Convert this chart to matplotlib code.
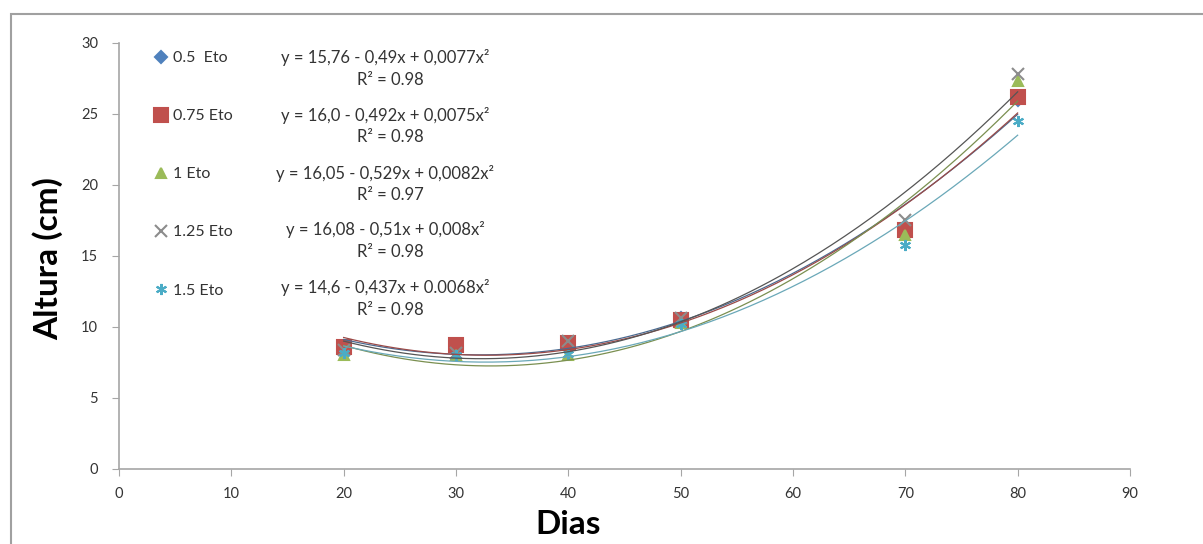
import matplotlib.pyplot as plt
import matplotlib.patches as mpatches
import numpy as np

plt.rcParams['font.family'] = ['Lato', 'DejaVu Sans']

dias = [20, 30, 40, 50, 70, 80]
series = ['0.5  Eto', '0.75 Eto', '1 Eto', '1.25 Eto', '1.5 Eto']
eto_05 = [8.5, 8.7, 8.9, 10.6, 17.0, 26.0]
eto_075 = [8.6, 8.7, 8.9, 10.5, 16.8, 26.2]
eto_1 = [8.0, 8.0, 8.0, 10.3, 16.5, 27.3]
eto_125 = [8.4, 8.2, 9.0, 10.6, 17.5, 27.8]
eto_15 = [8.2, 8.0, 8.1, 10.2, 15.8, 24.5]
equations = ['y = 15,76 - 0,49x + 0,0077x²',
             'y = 16,0 - 0,492x + 0,0075x²',
             'y = 16,05 - 0,529x + 0,0082x²',
             'y = 16,08 - 0,51x + 0,008x²',
             'y = 14,6 - 0,437x + 0.0068x²']
r2 = ['R² = 0.98', 'R² = 0.98', 'R² = 0.97', 'R² = 0.98', 'R² = 0.98']

colors = ['#4F81BD', '#C0504D', '#9BBB59', '#8C8C8C', '#4BACC6']
line_colors = ['#4a6a90', '#9a4a48', '#7a8f50', '#555555', '#6aa8b8']
markers = ['D', 's', '^', 'x', (6, 2, 0)]
sizes = [6, 10, 7, 8, 8]

fig = plt.figure(figsize=(12.03, 5.44), dpi=100)
fig.patches.append(mpatches.Rectangle((0.009, -0.02), 1.0, 0.995, transform=fig.transFigure,
                                      fill=False, edgecolor='#a0a0a0', lw=1.5))
ax = fig.add_axes([0.0989, 0.1379, 0.8404, 0.7831])

all_vals = [eto_05, eto_075, eto_1, eto_125, eto_15]
xs = np.array(dias)
xf = np.linspace(20, 80, 200)
handles = []
for vals, c, lc, m, s, name in zip(all_vals, colors, line_colors, markers, sizes, series):
    coef = np.polyfit(xs, vals, 2)
    ax.plot(xf, np.polyval(coef, xf), color=lc, lw=0.9, zorder=3)
    h = ax.plot(xs, vals, linestyle='none', marker=m, markersize=s, color=c,
                markeredgewidth=1.5, zorder=2, label=name)[0]
    handles.append(h)

ax.set_xlim(0, 90)
ax.set_ylim(0, 30)
ax.set_xticks(range(0, 91, 10))
ax.set_yticks(range(0, 31, 5))
for sp in ['top', 'right']:
    ax.spines[sp].set_visible(False)
for sp in ['left', 'bottom']:
    ax.spines[sp].set_color('#a6a6a6')
    ax.spines[sp].set_linewidth(1.2)
ax.tick_params(colors='#a6a6a6', labelcolor='#333333', labelsize=10.5, length=5, direction='out')
ax.tick_params(axis='x', pad=8)
ax.tick_params(axis='y', pad=10)

fig.text(0.472, 0.035, 'Dias', fontsize=24, fontweight='bold', ha='center', va='center')
fig.text(0.040, 0.525, 'Altura (cm)', fontsize=24, fontweight='bold', ha='center',
         va='center', rotation=90)

leg = fig.legend(handles=handles, loc='upper left', bbox_to_anchor=(0.124, 0.918),
                 frameon=False, fontsize=11.5, labelspacing=2.75, handlelength=0.7,
                 handletextpad=0.4, borderaxespad=0)
for t in leg.get_texts():
    t.set_color('#333333')

row_y = [58, 115, 173, 230, 288]
for ry, eq, r in zip(row_y, equations, r2):
    fig.text(385 / 1203, 1 - ry / 544, eq, fontsize=12, color='#333333', ha='center', va='center')
    fig.text(390 / 1203, 1 - (ry + 22) / 544, r, fontsize=12, color='#333333', ha='center', va='center')

fig.savefig('out.png', dpi=100)
